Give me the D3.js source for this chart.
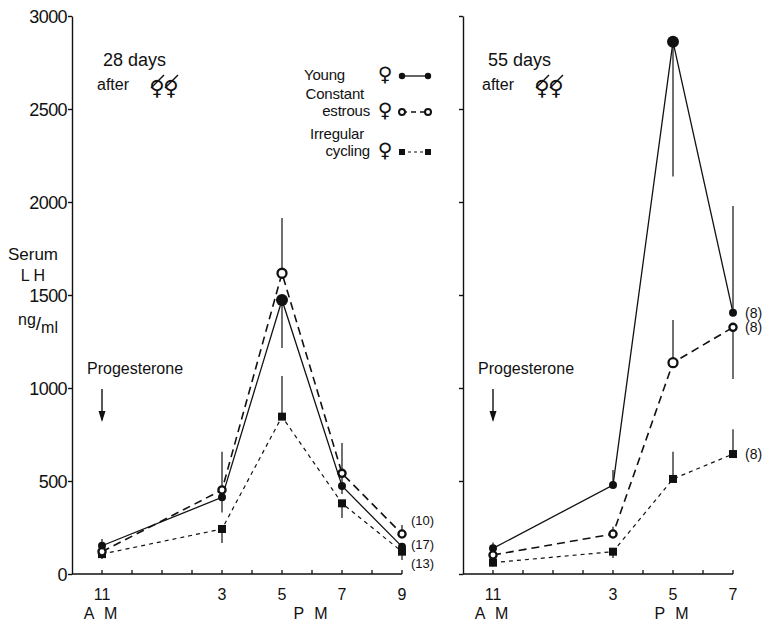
<!DOCTYPE html>
<html>
<head>
<meta charset="utf-8">
<script src="https://cdn.jsdelivr.net/npm/d3@7"></script>
<style>
body { margin: 0; background: #fff; }
svg text { font-family: "Liberation Sans", Arial, sans-serif; fill: #111; }
</style>
</head>
<body>
<svg width="769" height="629"></svg>
<script>
// hours after 11 AM
var hoursLeft = [0, 4, 6, 8, 10]
var hoursRight = [0, 4, 6, 8]
var hourLabelsLeft = ["11", "3", "5", "7", "9"]
var hourLabelsRight = ["11", "3", "5", "7"]
var yTicks = [0, 500, 1000, 1500, 2000, 2500, 3000]

// 28 days after ovariectomy
var young28 = [152, 412, 1473, 473, 147]
var estrous28 = [120, 452, 1617, 541, 215]
var irregular28 = [107, 242, 846, 380, 120]
var young28Err = [[130, 188], [330, 452], [1215, 1473], [430, 541], [147, 147]]
var estrous28Err = [[100, 140], [452, 657], [1617, 1914], [541, 704], [215, 263]]
var irregular28Err = [[80, 107], [167, 242], [846, 1064], [301, 380], [75, 120]]
var nLeft = ["(10)", "(17)", "(13)"]

// 55 days after ovariectomy
var young55 = [138, 478, 2862, 1405]
var estrous55 = [102, 215, 1136, 1326]
var irregular55 = [61, 120, 511, 645]
var young55Err = [[138, 170], [478, 559], [2137, 2862], [1405, 1978]]
var estrous55Err = [[90, 110], [215, 254], [1136, 1366], [1048, 1326]]
var irregular55Err = [[40, 61], [86, 120], [511, 657], [645, 778]]
var nRight = ["(8)", "(8)", "(8)"]

var svg = d3.select("svg")

var y = d3.scaleLinear().domain([0, 3000]).range([574, 16])
var xLeft = d3.scaleLinear().domain([-1, 10]).range([72, 402])
var xRight = d3.scaleLinear().domain([-1, 8]).range([463, 733])

var drawPanel = function(x, hours, labels, showYLabels, pmHour)
{
    var g = svg.append("g")
    // y axis
    var yAxis = d3.axisLeft(y).tickValues(yTicks).tickSize(4).tickSizeOuter(0).tickPadding(1)
        .tickFormat(showYLabels ? d3.format("d") : "")
    var ya = g.append("g").attr("transform", "translate(" + x.range()[0] + ",0)").call(yAxis)
    ya.selectAll("path, line").attr("stroke", "#111").attr("stroke-width", 1.4)
    ya.selectAll("text").style("font-size", "18px").style("letter-spacing", "-0.6px").attr("dy", "0.36em")

    // x axis
    var allHours = d3.range(0, hours[hours.length - 1] + 1)
    g.append("line").attr("x1", x.range()[0]).attr("x2", x(hours[hours.length - 1]))
        .attr("y1", y(0)).attr("y2", y(0)).attr("stroke", "#111").attr("stroke-width", 1.6)
    g.selectAll(".xt").data(allHours).enter().append("line")
        .attr("x1", function(d) { return x(d) }).attr("x2", function(d) { return x(d) })
        .attr("y1", y(0)).attr("y2", y(0) - 4).attr("stroke", "#111").attr("stroke-width", 1.3)
    g.selectAll(".xl").data(hours).enter().append("text")
        .attr("x", function(d) { return x(d) }).attr("y", 600)
        .attr("text-anchor", "middle").style("font-size", "16px")
        .text(function(d, i) { return labels[i] })
    g.append("text").attr("x", x(0)).attr("y", 619).attr("text-anchor", "middle")
        .style("font-size", "16px").style("letter-spacing", "3px").text("A M")
    g.append("text").attr("x", x(pmHour)).attr("y", 619).attr("text-anchor", "middle")
        .style("font-size", "16px").style("letter-spacing", "3px").text("P M")

    // progesterone arrow
    g.append("text").attr("x", x(0) - 15).attr("y", 374).style("font-size", "16px").text("Progesterone")
    g.append("line").attr("x1", x(0)).attr("x2", x(0)).attr("y1", 389).attr("y2", 420)
        .attr("stroke", "#111").attr("stroke-width", 1.4)
    g.append("path").attr("d", "M" + (x(0) - 3.5) + ",411 L" + (x(0) + 3.5) + ",411 L" + x(0) + ",422 Z")
        .attr("fill", "#111")
    return g
}

var drawSeries = function(g, x, hours, vals, errs, style, bigIdx)
{
    var line = d3.line().x(function(d, i) { return x(hours[i]) }).y(function(d) { return y(d) })
    g.append("path").datum(vals).attr("d", line).attr("fill", "none")
        .attr("stroke", "#111").attr("stroke-width", style.width)
        .attr("stroke-dasharray", style.dash)
    g.selectAll(null).data(errs).enter().append("line")
        .attr("x1", function(d, i) { return x(hours[i]) }).attr("x2", function(d, i) { return x(hours[i]) })
        .attr("y1", function(d) { return y(d[0]) }).attr("y2", function(d) { return y(d[1]) })
        .attr("stroke", "#111").attr("stroke-width", 1.2)
    vals.forEach(function(v, i)
    {
        var cx = x(hours[i]), cy = y(v)
        var big = (i == bigIdx)
        if (style.marker == "dot") {
            g.append("circle").attr("cx", cx).attr("cy", cy).attr("r", big ? 6 : 4).attr("fill", "#111")
        } else if (style.marker == "ring") {
            g.append("circle").attr("cx", cx).attr("cy", cy).attr("r", big ? 4.5 : 3.6)
                .attr("fill", "#fff").attr("stroke", "#111").attr("stroke-width", 2.3)
        } else {
            g.append("rect").attr("x", cx - 4).attr("y", cy - 4).attr("width", 8).attr("height", 8).attr("fill", "#111")
        }
    })
}

var solid = {width: 1.3, dash: null, marker: "dot"}
var longDash = {width: 1.6, dash: "8,5", marker: "ring"}
var shortDash = {width: 1.2, dash: "4,4", marker: "square"}

var left = drawPanel(xLeft, hoursLeft, hourLabelsLeft, true, 7)
drawSeries(left, xLeft, hoursLeft, irregular28, irregular28Err, shortDash, -1)
drawSeries(left, xLeft, hoursLeft, young28, young28Err, solid, 2)
drawSeries(left, xLeft, hoursLeft, estrous28, estrous28Err, longDash, 2)

var right = drawPanel(xRight, hoursRight, hourLabelsRight, false, 6)
drawSeries(right, xRight, hoursRight, irregular55, irregular55Err, shortDash, -1)
drawSeries(right, xRight, hoursRight, young55, young55Err, solid, 2)
drawSeries(right, xRight, hoursRight, estrous55, estrous55Err, longDash, 2)

// n labels
var nLeftY = [520, 544, 563]
svg.selectAll(".nl").data(nLeft).enter().append("text")
    .attr("x", 411).attr("y", function(d, i) { return nLeftY[i] + 5 })
    .style("font-size", "13px").text(function(d) { return d })
var nRightY = [y(young55[3]), y(estrous55[3]), y(irregular55[3])]
svg.selectAll(".nr").data(nRight).enter().append("text")
    .attr("x", 745).attr("y", function(d, i) { return nRightY[i] + 5 })
    .style("font-size", "14px").text(function(d) { return d })

// y title
svg.append("text").attr("x", 33).attr("y", 260).attr("text-anchor", "middle").style("font-size", "17px").text("Serum")
svg.append("text").attr("x", 33).attr("y", 281).attr("text-anchor", "middle").style("font-size", "16px").text("L H")
var ng = svg.append("text").attr("x", 18).attr("y", 330).style("font-size", "16px")
ng.append("tspan").attr("dy", -5).text("ng")
ng.append("tspan").attr("dy", 5).style("font-size", "19px").text("/")
ng.append("tspan").attr("dy", 3).text("ml")

// panel titles with ovariectomized female symbols
var femaleX = function(g, cx, cy, size)
{
    g.append("text").attr("x", cx).attr("y", cy).attr("text-anchor", "middle")
        .style("font-size", size + "px").style("font-family", "DejaVu Sans").style("font-weight", "bold").text("\u2640")
    g.append("line").attr("x1", cx - 6).attr("y1", cy - 7).attr("x2", cx + 7).attr("y2", cy - 20)
        .attr("stroke", "#111").attr("stroke-width", 1.4)
}
var title = function(x0, label)
{
    var g = svg.append("g")
    g.append("text").attr("x", x0 + 6).attr("y", 66).style("font-size", "18px").text(label)
    g.append("text").attr("x", x0).attr("y", 90).style("font-size", "16px").text("after")
    femaleX(g, x0 + 60, 95, 21)
    femaleX(g, x0 + 74, 95, 21)
}
title(97, "28 days")
title(482, "55 days")

// legend
var legendNames = [["Young"], ["Constant", "estrous"], ["Irregular", "cycling"]]
var legendY = [76, 112, 152]
var legendStyles = [solid, longDash, shortDash]
legendNames.forEach(function(names, i)
{
    var ly = legendY[i]
    names.forEach(function(n, j)
    {
        svg.append("text").attr("x", 370 - (names.length == 1 ? 25 : (j == 0 ? 6 : 0)))
            .attr("y", ly + 4 - (names.length - 1 - j) * 17).attr("text-anchor", "end")
            .style("font-size", "15px").style("letter-spacing", "-0.2px").text(n)
    })
    svg.append("text").attr("x", 385).attr("y", ly + 5).attr("text-anchor", "middle")
        .style("font-size", "20px").style("font-family", "DejaVu Sans").style("font-weight", "bold").text("\u2640")
    var st = legendStyles[i]
    var lg = svg.append("g")
    lg.append("line").attr("x1", 402).attr("x2", 428).attr("y1", ly).attr("y2", ly)
        .attr("stroke", "#111").attr("stroke-width", st.width)
        .attr("stroke-dasharray", st.marker == "ring" ? "5,4" : (st.dash ? "3,3" : null))
    ;[402, 428].forEach(function(px)
    {
        if (st.marker == "dot") lg.append("circle").attr("cx", px).attr("cy", ly).attr("r", 3.2).attr("fill", "#111")
        else if (st.marker == "ring") lg.append("circle").attr("cx", px).attr("cy", ly).attr("r", 3)
            .attr("fill", "#fff").attr("stroke", "#111").attr("stroke-width", 2)
        else lg.append("rect").attr("x", px - 3).attr("y", ly - 3).attr("width", 6).attr("height", 6).attr("fill", "#111")
    })
})
</script>
</body>
</html>
